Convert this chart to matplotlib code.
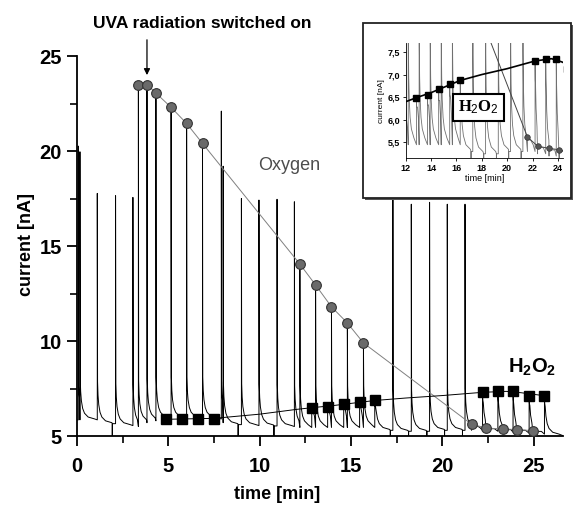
import matplotlib
matplotlib.use('Agg')
import matplotlib.pyplot as plt
from matplotlib.patches import Rectangle

plt.rcParams['font.family'] = ['Liberation Sans', 'DejaVu Sans']
plt.rcParams['mathtext.fontset'] = 'custom'
plt.rcParams['mathtext.bf'] = 'Liberation Sans:bold'
plt.rcParams['mathtext.rm'] = 'Liberation Sans'
plt.rcParams['mathtext.it'] = 'Liberation Serif:bold'
plt.rcParams['mathtext.default'] = 'bf'

# oxygen peaks (circles)
ox_t = [3.36, 3.83, 4.32, 5.15, 6.0, 6.87, 12.2, 13.06, 13.93, 14.8, 15.68,
        21.6, 22.4, 23.3, 24.1, 24.97]
ox_y = [23.45, 23.5, 23.05, 22.3, 21.45, 20.4, 14.05, 12.95, 11.8, 10.95, 9.9,
        5.62, 5.42, 5.37, 5.34, 5.28]

# H2O2 peaks (squares)
h2_t = [4.85, 5.74, 6.63, 7.49, 12.85, 13.72, 14.6, 15.47, 16.3,
        22.2, 23.04, 23.87, 24.75, 25.59]
h2_y = [5.88, 5.88, 5.9, 5.92, 6.49, 6.55, 6.67, 6.8, 6.87,
        7.3, 7.35, 7.35, 7.12, 7.12]

# hand drawn fit through the H2O2 points
h2fit_t = [4.85, 7.5, 10.0, 12.0, 12.85, 14.0, 16.3, 18.0, 20.0, 22.2, 23.5, 24.3, 25.6]
h2fit_y = [5.88, 5.93, 6.15, 6.4, 6.49, 6.6, 6.87, 7.0, 7.13, 7.3, 7.35, 7.28, 7.12]

# all peaks of the recorded trace: time, top, level the tail settles to
ev_t = [0.07, 0.16, 1.11, 2.11, 3.06, 3.36, 3.83, 4.32, 5.15, 6.0, 6.87, 7.9, 8.0,
        9.0, 9.96, 10.95, 11.9, 12.2, 12.85, 13.06, 13.72, 13.93, 14.6, 14.8,
        15.47, 15.68, 16.3, 17.29, 18.3, 19.3, 20.27, 21.24, 21.6, 22.2, 22.4,
        23.04, 23.3, 23.87, 24.1, 24.75, 24.97, 25.59]
ev_peak = [20.26, 19.96, 17.77, 17.65, 17.56, 23.45, 23.5, 23.05, 22.3, 21.45, 20.4,
           22.1, 19.2, 17.5, 17.42, 17.46, 17.33, 14.05, 6.49, 12.95, 6.55, 11.8,
           6.67, 10.95, 6.8, 9.9, 6.87, 21.0, 17.2, 17.3, 17.2, 17.2, 5.62, 7.3,
           5.42, 7.35, 5.37, 7.35, 5.34, 7.12, 5.28, 7.12]
ev_base = [5.85, 5.85, 5.65, 5.55, 5.5, 5.7, 5.8, 5.9, 5.9, 5.9, 5.9, 5.7, 5.6,
           5.55, 5.53, 5.5, 5.45, 5.45, 5.45, 5.45, 5.45, 5.45, 5.45, 5.45,
           5.45, 5.45, 5.3, 5.25, 5.25, 5.3, 5.3, 5.3, 5.3, 5.25, 5.25,
           5.2, 5.2, 5.15, 5.15, 5.1, 5.1, 5.05]
# short drops to the axis just before the valve switching peaks
dip_t = [0.93, 1.93, 2.9, 8.82, 9.8, 10.78, 11.75, 17.15, 18.15, 19.15, 20.12, 21.1]
t_end, y_end = 26.6, 5.02

# shape of a peak tail (min after top, nA above level)
tail_dt = [0.015, 0.04, 0.08, 0.15, 0.25, 0.45, 0.8]
tail_h = [2.2, 1.5, 1.0, 0.6, 0.35, 0.15, 0.05]

tr_t = [0.0]
tr_y = [ev_base[0]]
cur = ev_base[0]
for i in range(len(ev_t)):
    t0 = ev_t[i]
    for d in dip_t:
        if tr_t[-1] < d < t0:
            tr_t += [d, d, d + 0.004]
            tr_y += [cur, 4.6, cur]
    tr_t += [t0, t0]
    tr_y += [cur, ev_peak[i]]
    nxt = ev_t[i + 1] if i + 1 < len(ev_t) else t_end
    for dt, h in zip(tail_dt, tail_h):
        if t0 + dt < nxt:
            tr_t.append(t0 + dt)
            tr_y.append(ev_base[i] + min(h, 0.8 * (ev_peak[i] - ev_base[i])))
    cur = ev_base[i]
tr_t.append(t_end)
tr_y.append(y_end)

fig = plt.figure(figsize=(5.73, 5.07), dpi=100)
ax = fig.add_axes([0.1344, 0.140, 0.848, 0.7495])

ax.plot(tr_t, tr_y, color='black', lw=0.7, zorder=2)
ax.plot(ox_t, ox_y, color='#808080', lw=0.7, zorder=3)
ax.plot(ox_t, ox_y, 'o', ms=7, mfc='#6a6a6a', mec='#333333', mew=0.8, zorder=4)
ax.plot(h2fit_t, h2fit_y, color='black', lw=0.7, zorder=3)
ax.plot(h2_t, h2_y, 's', ms=6.5, color='black', zorder=4)

ax.set_xlim(0, 26.6)
ax.set_ylim(5, 25)
ax.set_xticks([0, 5, 10, 15, 20, 25])
ax.set_xticks([2.5, 7.5, 12.5, 17.5, 22.5], minor=True)
ax.set_yticks([5, 10, 15, 20, 25])
ax.set_yticks([7.5, 12.5, 17.5, 22.5], minor=True)
ax.spines['top'].set_visible(False)
ax.spines['right'].set_visible(False)
ax.spines['left'].set_linewidth(1.3)
ax.spines['bottom'].set_linewidth(1.3)
ax.tick_params(which='major', length=7, width=1.3, labelsize=14.5, pad=4)
ax.tick_params(axis='x', which='major', pad=8)
ax.tick_params(which='minor', length=5, width=1.2)
for lb in ax.get_xticklabels() + ax.get_yticklabels():
    lb.set_fontweight('bold')

fig.text(0.047, 0.517, 'current [nA]', rotation=90, fontsize=13, fontweight='bold',
         ha='center', va='center')
fig.text(0.483, 0.024, 'time [min]', fontsize=13, fontweight='bold', ha='center', va='center')
fig.text(0.3525, 0.9527, 'UVA radiation switched on', fontsize=12.5, fontweight='bold',
         ha='center', va='center')
ax.annotate('', xy=(3.83, 23.85), xytext=(3.83, 26.0), annotation_clip=False,
            arrowprops=dict(arrowstyle='-|>', color='black', lw=0.9, mutation_scale=9))
ax.text(11.6, 19.26, 'Oxygen', fontsize=13, color='#4d4d4d', ha='center', va='center')
ax.text(24.9, 8.6, r'H$_2$O$_2$', fontsize=14.5, fontweight='bold', ha='center', va='center')

# inset frame with a slight shadow
fig.patches.append(Rectangle((0.6365, 0.6055), 0.363, 0.345, transform=fig.transFigure,
                             facecolor='#555555', edgecolor='none', zorder=4))
fig.patches.append(Rectangle((0.6335, 0.6095), 0.363, 0.345, transform=fig.transFigure,
                             facecolor='white', edgecolor='#222222', lw=1.3, zorder=5))

ins = fig.add_axes([0.708, 0.6877, 0.2745, 0.2269], zorder=10)
ins.patch.set_alpha(0)
ins.plot(tr_t, tr_y, color='#707070', lw=0.6)
ins.plot(ox_t, ox_y, color='#444444', lw=0.7)
ins.plot(ox_t, ox_y, 'o', ms=4, mfc='#555555', mec='#333333', mew=0.5)
ins.plot(h2fit_t, h2fit_y, color='black', lw=1.2)
ins.plot(h2_t, h2_y, 's', ms=4, color='black')
ins.set_xlim(12, 24.4)
ins.set_ylim(5.15, 7.69)
ins.set_xticks([12, 14, 16, 18, 20, 22, 24])
ins.set_yticks([5.5, 6.0, 6.5, 7.0, 7.5])
ins.set_yticklabels(['5,5', '6,0', '6,5', '7,0', '7,5'])
ins.spines['top'].set_visible(False)
ins.spines['right'].set_visible(False)
ins.spines['left'].set_linewidth(0.6)
ins.spines['bottom'].set_linewidth(0.6)
ins.tick_params(length=2.5, width=0.6, labelsize=6.5, pad=1.5)
for lb in ins.get_xticklabels() + ins.get_yticklabels():
    lb.set_fontweight('bold')
ins.set_xlabel('time [min]', fontsize=6.5, labelpad=0.5)
ins.set_ylabel('current [nA]', fontsize=6, labelpad=2)
ins.text(17.74, 6.27, r'$\mathit{H_2O_2}$', fontsize=12, ha='center', va='center',
         bbox=dict(boxstyle='square,pad=0.3', facecolor='white', edgecolor='black', lw=1.5))

fig.savefig('out.png', dpi=100)
